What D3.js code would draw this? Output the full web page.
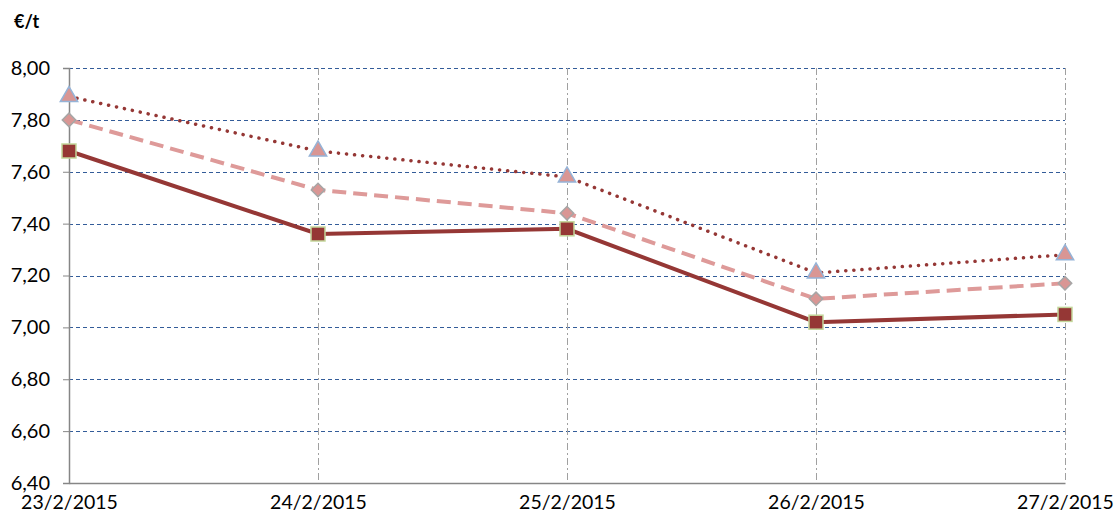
<!DOCTYPE html>
<html>
<head>
<meta charset="utf-8">
<script src="https://cdn.jsdelivr.net/npm/d3@7"></script>
<style>
  body { margin: 0; background: #fff; }
  svg { display: block; font-family: Lato, "Open Sans", sans-serif; }
</style>
</head>
<body>
<svg id="chart" width="1119" height="522"></svg>
<script>
const dates = ['23/2/2015', '24/2/2015', '25/2/2015', '26/2/2015', '27/2/2015'];
const yTicks = [6.4, 6.6, 6.8, 7.0, 7.2, 7.4, 7.6, 7.8, 8.0];
const triangleSeries = [7.89, 7.68, 7.58, 7.21, 7.28];
const diamondSeries = [7.80, 7.53, 7.44, 7.11, 7.17];
const squareSeries = [7.68, 7.36, 7.38, 7.02, 7.05];

const svg = d3.select('#chart');
const margin = { top: 68, right: 54, bottom: 39, left: 69 };
const width = 1119, height = 522;
const innerWidth = width - margin.left - margin.right;
const innerHeight = height - margin.top - margin.bottom;

const x = d3.scalePoint().domain(dates).range([0, innerWidth]);
const y = d3.scaleLinear().domain([6.4, 8.0]).range([innerHeight, 0]);
const fmt = (d) => d3.format('.2f')(d).replace('.', ',');

const g = svg.append('g').attr('transform', `translate(${margin.left},${margin.top})`);

// horizontal grid
g.selectAll('.hgrid')
  .data(yTicks.filter((d) => d > 6.4))
  .enter()
  .append('line')
  .attr('x1', 0)
  .attr('x2', innerWidth)
  .attr('y1', (d) => Math.round(y(d)) + 0.5)
  .attr('y2', (d) => Math.round(y(d)) + 0.5)
  .attr('stroke', '#335C99')
  .attr('stroke-width', 1)
  .attr('stroke-dasharray', '4,3');

// vertical grid
g.selectAll('.vgrid')
  .data(dates.slice(1))
  .enter()
  .append('line')
  .attr('x1', (d) => Math.round(x(d)) + 0.5)
  .attr('x2', (d) => Math.round(x(d)) + 0.5)
  .attr('y1', 0)
  .attr('y2', innerHeight)
  .attr('stroke', '#A0A0A0')
  .attr('stroke-width', 1)
  .attr('stroke-dasharray', '7,3,2,3');

// axes
const yAxis = d3.axisLeft(y).tickValues(yTicks).tickFormat(fmt).tickSize(6).tickPadding(13);
const yg = g.append('g').call(yAxis);
yg.select('.domain').attr('stroke', '#868686').attr('stroke-width', 1.5);
yg.selectAll('.tick line').attr('stroke', '#868686');
yg.selectAll('.tick text').attr('font-size', 20).attr('fill', '#000').attr('font-family', 'Lato, sans-serif');

const xAxis = d3.axisBottom(x).tickSize(0).tickPadding(12);
const xg = g.append('g').attr('transform', `translate(0,${innerHeight})`).call(xAxis);
xg.select('.domain').attr('stroke', '#868686').attr('stroke-width', 1.5);
xg.selectAll('.tick text').attr('font-size', 19.5).attr('fill', '#000').attr('font-family', 'Lato, sans-serif');

svg.append('text')
  .attr('x', 14)
  .attr('y', 28)
  .attr('font-size', 18)
  .attr('font-weight', 'bold')
  .attr('fill', '#000')
  .text('€/t');

const line = d3.line().x((d, i) => x(dates[i])).y((d) => y(d));

g.append('path').datum(triangleSeries).attr('d', line)
  .attr('fill', 'none').attr('stroke', '#953735').attr('stroke-width', 3.5)
  .attr('stroke-linecap', 'round').attr('stroke-dasharray', '0.1,8');

g.append('path').datum(diamondSeries).attr('d', line)
  .attr('fill', 'none').attr('stroke', '#DE9A99').attr('stroke-width', 4)
  .attr('stroke-dasharray', '14,7');

g.append('path').datum(squareSeries).attr('d', line)
  .attr('fill', 'none').attr('stroke', '#953735').attr('stroke-width', 4);

// markers
g.selectAll('.tri')
  .data(triangleSeries)
  .enter()
  .append('path')
  .attr('d', d3.symbol().type(d3.symbolTriangle).size(130))
  .attr('transform', (d, i) => `translate(${x(dates[i])},${y(d)})`)
  .attr('fill', '#D99694')
  .attr('stroke', '#95B3D7')
  .attr('stroke-width', 1.5);

g.selectAll('.dia')
  .data(diamondSeries)
  .enter()
  .append('path')
  .attr('d', d3.symbol().type(d3.symbolSquare).size(90))
  .attr('transform', (d, i) => `translate(${x(dates[i])},${y(d)}) rotate(45)`)
  .attr('fill', '#D99694')
  .attr('stroke', '#A6A6A6')
  .attr('stroke-width', 1.5);

g.selectAll('.sq')
  .data(squareSeries)
  .enter()
  .append('rect')
  .attr('x', (d, i) => x(dates[i]) - 7)
  .attr('y', (d) => y(d) - 7)
  .attr('width', 14)
  .attr('height', 14)
  .attr('fill', '#953735')
  .attr('stroke', '#C3D69B')
  .attr('stroke-width', 1.5);
</script>
</body>
</html>
